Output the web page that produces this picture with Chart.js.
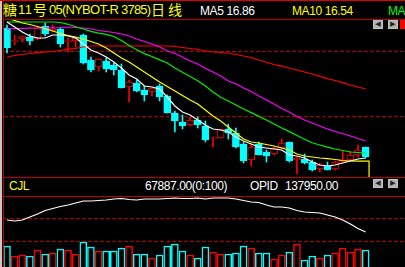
<!DOCTYPE html>
<html>
<head>
<meta charset="utf-8">
<script src="https://cdn.jsdelivr.net/npm/chart.js@4.4.0/dist/chart.umd.min.js"></script>
<style>
  html, body { margin: 0; padding: 0; background: #000; width: 405px; height: 267px; overflow: hidden; }
  body { position: relative; }
  .t { position: absolute; font-family: "Liberation Sans", Arial, sans-serif; font-size: 12px; letter-spacing: -0.4px; white-space: nowrap; line-height: 14px; }
  .cn { position: absolute; top: 2px; color: #ffff00; font-family: "Noto Sans CJK SC", sans-serif; font-size: 14px; line-height: 15px; }
  .hl { position: absolute; left: 3px; width: 402px; height: 1px; background: #c00000; }
  .btn { position: absolute; width: 8px; height: 7px; border: 1px solid #c0c0c0; background: #b0b0b0; color: #202020; font-size: 7px; line-height: 7px; text-align: center; font-family: "DejaVu Sans", sans-serif; }
  canvas { position: absolute; left: 4px; }
</style>
</head>
<body>
<div style="position:absolute;left:0;top:0;width:2px;height:267px;background:#c8c8c8"></div>
<div style="position:absolute;left:3px;top:0;width:1px;height:267px;background:#c00000"></div>
<div style="position:absolute;left:0;top:0;width:405px;height:1px;background:#e00000"></div>
<div class="hl" style="top:19px"></div>
<div class="hl" style="top:177px"></div>
<div class="hl" style="top:196px"></div>

<div class="cn" style="left:3px">糖</div>
<div class="t" style="left:18px;top:3px;color:#ffff00;font-size:13px;letter-spacing:0.6px">11</div>
<div class="cn" style="left:33px">号</div>
<div class="t" style="left:49px;top:3px;color:#ffff00;font-size:13px;letter-spacing:-0.75px">05(NYBOT-R 3785)</div>
<div class="cn" style="left:151px">日</div>
<div class="cn" style="left:168px">线</div>
<div class="t" style="left:200px;top:4px;color:#ffffff">MA5 16.86</div>
<div class="t" style="left:292px;top:4px;color:#ffff00">MA10 16.54</div>
<div class="t" style="left:388px;top:4px;color:#00ff00">MA20 17.36</div>

<div class="t" style="left:9px;top:179px;color:#ffff00">CJL</div>
<div class="t" style="left:145px;top:179px;color:#ffffff">67887.00(0:100)</div>
<div class="t" style="left:250px;top:179px;color:#ffffff">OPID</div>
<div class="t" style="left:285px;top:179px;color:#ffffff">137950.00</div>

<canvas id="main" width="401" height="157" style="top:20px"></canvas>
<canvas id="sub" width="401" height="70" style="top:197px"></canvas>

<div class="btn" style="left:373px;top:20px">◀</div>
<div class="btn" style="left:388px;top:20px">▶</div>
<div style="position:absolute;left:400px;top:20px;width:5px;height:9px;background:#ff0000"></div>
<div class="btn" style="left:373px;top:179px">◀</div>
<div class="btn" style="left:388px;top:179px">▶</div>

<script>
// daily bars, oldest first
const open  = [29.86, 28.50, 28.76, 28.96, 28.76, 30.06, 29.56, 29.76, 28.50, 28.56, 29.16, 26.66, 25.96, 26.56, 26.16, 25.66,
               23.96, 24.36, 23.66, 23.46, 24.06, 23.06, 21.36, 20.46, 20.16, 20.66, 20.06, 18.76, 18.86, 19.76, 19.36, 18.26,
               16.66, 18.26, 17.46, 17.26, 17.86, 18.46, 16.66, 16.76, 16.46, 15.76, 16.06, 15.76, 16.46, 16.66, 17.16, 17.96];
const high  = [30.16, 29.16, 29.06, 29.26, 29.96, 30.36, 30.16, 29.86, 28.86, 28.86, 29.26, 26.96, 26.76, 26.86, 26.36, 26.26,
               24.66, 24.66, 24.06, 23.86, 24.26, 23.16, 21.56, 21.16, 20.96, 20.96, 20.56, 18.96, 19.76, 20.26, 19.86, 18.46,
               18.16, 18.46, 17.66, 17.96, 18.76, 18.46, 16.96, 17.26, 16.66, 16.36, 16.46, 16.56, 17.56, 17.56, 18.16, 17.96];
const low   = [27.36, 28.16, 28.46, 28.16, 28.66, 29.06, 29.46, 27.96, 27.46, 27.96, 26.26, 25.46, 25.56, 25.46, 25.16, 23.86,
               22.46, 23.46, 22.56, 23.06, 22.56, 21.36, 19.46, 19.76, 20.06, 19.86, 18.46, 17.96, 18.86, 18.76, 17.86, 16.36,
               16.06, 17.16, 16.46, 17.16, 17.76, 16.46, 15.26, 16.26, 15.56, 15.46, 15.66, 15.66, 16.46, 16.56, 16.96, 16.86];
const close = [27.86, 28.60, 29.06, 28.56, 29.86, 29.26, 29.76, 28.26, 28.60, 28.86, 26.36, 25.66, 26.76, 25.76, 25.66, 23.86,
               24.46, 23.56, 23.16, 23.86, 22.96, 21.36, 20.56, 20.06, 20.66, 20.16, 18.66, 18.86, 19.76, 19.36, 17.96, 16.56,
               17.96, 17.16, 17.06, 17.86, 18.36, 16.56, 16.86, 16.36, 15.66, 16.16, 15.66, 16.46, 16.66, 17.16, 17.66, 16.96];

const ma5  = [30.46, 29.96, 29.46, 29.06, 28.86, 28.86, 29.16, 29.16, 29.06, 28.86, 28.26, 27.66, 27.36, 26.96, 26.46, 25.86,
              25.16, 24.76, 24.06, 23.96, 23.76, 22.96, 22.06, 21.46, 21.16, 20.66, 20.16, 19.76, 19.66, 19.46, 18.96, 18.56,
              18.26, 17.96, 17.86, 17.76, 17.66, 17.16, 17.06, 16.86, 16.46, 16.16, 16.06, 16.16, 16.36, 16.56, 16.76, 16.86];
const ma10 = [30.86, 30.61, 30.36, 30.21, 30.01, 29.81, 29.56, 29.31, 29.11, 28.96, 28.76, 28.51, 28.26, 27.86, 27.36, 26.86,
              26.46, 25.96, 25.46, 24.96, 24.46, 24.01, 23.56, 23.11, 22.66, 22.26, 21.66, 21.06, 20.56, 19.96, 19.36, 18.76,
              18.46, 18.36, 18.21, 18.06, 17.86, 17.66, 17.26, 17.06, 16.96, 16.86, 16.79, 16.71, 16.61, 16.56, 16.55, 16.54];
const ma20 = [30.46, 30.46, 30.46, 30.46, 30.46, 30.46, 30.46, 30.41, 30.23, 29.99, 29.76, 29.52, 29.34, 29.23, 29.01, 28.61,
              28.10, 27.68, 27.30, 27.01, 26.67, 26.36, 25.86, 25.43, 25.00, 24.58, 24.06, 23.46, 22.93, 22.56, 22.16, 21.76,
              21.40, 21.02, 20.66, 20.26, 19.86, 19.50, 19.11, 18.73, 18.39, 18.16, 17.94, 17.76, 17.61, 17.46, 17.41, 17.36];
const ma40 = [29.76, 29.79, 29.81, 29.84, 29.86, 29.86, 29.88, 29.91, 29.96, 29.91, 29.86, 29.76, 29.61, 29.51, 29.41, 29.26,
              29.06, 28.76, 28.51, 28.26, 27.96, 27.56, 27.31, 26.96, 26.56, 26.26, 25.81, 25.46, 25.06, 24.56, 24.26, 23.86,
              23.51, 23.06, 22.66, 22.26, 21.81, 21.46, 21.01, 20.66, 20.36, 20.06, 19.76, 19.51, 19.31, 19.06, 18.81, 18.56];
const ma60 = [26.96, 27.11, 27.21, 27.31, 27.39, 27.46, 27.51, 27.61, 27.76, 27.83, 27.96, 28.06, 28.06, 28.06, 28.06, 28.06,
              28.06, 28.06, 28.06, 28.06, 28.06, 28.06, 28.01, 27.91, 27.81, 27.71, 27.56, 27.46, 27.41, 27.36, 27.21, 27.06,
              26.91, 26.66, 26.43, 26.21, 26.04, 25.86, 25.66, 25.46, 25.26, 25.02, 24.80, 24.61, 24.39, 24.16, 23.96, 23.76];

// CJL volume and OPID open interest
const volume = [84000, 44000, 48000, 44000, 68000, 52000, 56000, 72000, 68000, 52000, 100000, 80000, 64000, 64000, 64000, 76000,
                84000, 52000, 52000, 36000, 48000, 84000, 92000, 64000, 48000, 36000, 80000, 60000, 52000, 52000, 56000, 84000,
                76000, 56000, 56000, 32000, 48000, 60000, 92000, 28000, 44000, 36000, 48000, 56000, 76000, 60000, 72000, 67887];
const opid = [155950, 154450, 155950, 160450, 164950, 170200, 173200, 176200, 178450, 181450, 184450, 184450, 185200, 185950, 187450, 188200,
              186700, 185950, 187450, 187450, 187450, 188200, 188950, 188200, 188200, 188950, 187450, 188950, 188950, 188950, 187450, 185200,
              182950, 182200, 178450, 175450, 175450, 173950, 170200, 167950, 167200, 166450, 163450, 160450, 155950, 149950, 143200, 137950];

const priceGrid = [27.46, 21.06];
const subGrid = [158950, 122950];

const RED = "#ff0000";
const CYAN = "#00ffff";
const idx = close.map((_, i) => i);
const up = i => close[i] >= open[i];
const pts = arr => arr.map((v, i) => ({ x: i, y: v }));
const xScale = { type: "linear", min: -0.393, max: 52.16, offset: false, display: false };
const lastX = idx.length - 1 + 0.45;

function maLine(data, color) {
  return { type: "line", data: pts(data), borderColor: color, borderWidth: 1.2, pointRadius: 0, tension: 0, order: -1 };
}

new Chart(document.getElementById("main"), {
  type: "bar",
  data: {
    datasets: [
      maLine(ma5, "#ffffff"),
      maLine(ma10, "#ffff00"),
      maLine(ma20, "#00f000"),
      maLine(ma40, "#ff00ff"),
      maLine(ma60, "#ff0000"),
      {
        // cursor mark at the last bar
        type: "line",
        data: [{ x: idx.length - 1, y: ma10[ma10.length - 1] }, { x: lastX, y: ma10[ma10.length - 1] }, { x: lastX, y: 14.96 }],
        borderColor: "#ffff00", borderWidth: 1.2, pointRadius: 0, order: -1,
      },
      {
        data: idx.map(i => ({ x: i, y: [open[i], close[i]] })),
        backgroundColor: ctx => (up(ctx.dataIndex) ? "#000" : CYAN),
        borderColor: ctx => (up(ctx.dataIndex) ? RED : CYAN),
        borderWidth: 1,
        borderSkipped: false,
        barThickness: 7,
        grouped: false,
        order: 1,
      },
      {
        data: idx.map(i => ({ x: i, y: [low[i], high[i]] })),
        backgroundColor: ctx => (up(ctx.dataIndex) ? RED : CYAN),
        borderWidth: 0,
        barThickness: 1,
        grouped: false,
        order: 2,
      },
    ],
  },
  options: {
    responsive: false,
    animation: false,
    devicePixelRatio: 1,
    events: [],
    layout: { padding: 0 },
    plugins: { legend: { display: false }, tooltip: { enabled: false } },
    scales: {
      x: xScale,
      y: {
        min: 14.96,
        max: 30.66,
        afterBuildTicks: s => { s.ticks = priceGrid.map(v => ({ value: v })); },
        ticks: { display: false },
        grid: { color: "#b00000", drawTicks: false },
        border: { display: false, dash: [4, 2] },
      },
    },
  },
});

new Chart(document.getElementById("sub"), {
  type: "bar",
  data: {
    datasets: [
      { type: "line", data: pts(opid), yAxisID: "yo", borderColor: "#ffffff", borderWidth: 1.2, pointRadius: 0, tension: 0, order: -1 },
      {
        data: idx.map(i => ({ x: i, y: volume[i] })),
        yAxisID: "yv",
        backgroundColor: "#000",
        borderColor: ctx => (up(ctx.dataIndex) ? RED : CYAN),
        borderWidth: 1.5,
        borderSkipped: "start",
        barThickness: 7,
        grouped: false,
      },
    ],
  },
  options: {
    responsive: false,
    animation: false,
    devicePixelRatio: 1,
    events: [],
    layout: { padding: 0 },
    plugins: { legend: { display: false }, tooltip: { enabled: false } },
    scales: {
      x: xScale,
      yv: { min: 0, max: 280000, display: false },
      yo: {
        min: 85450,
        max: 190450,
        afterBuildTicks: s => { s.ticks = subGrid.map(v => ({ value: v })); },
        ticks: { display: false },
        grid: { color: "#b00000", drawTicks: false },
        border: { display: false, dash: [4, 2] },
      },
    },
  },
});
</script>
</body>
</html>
